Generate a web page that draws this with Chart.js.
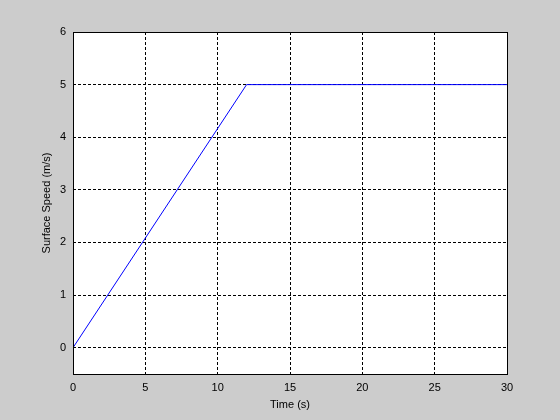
<!DOCTYPE html>
<html>
<head>
<meta charset="utf-8">
<script src="https://cdn.jsdelivr.net/npm/chart.js@4.4.0/dist/chart.umd.min.js"></script>
<style>
  html, body { margin: 0; padding: 0; background: #cccccc; }
  #wrap { width: 560px; height: 420px; }
</style>
</head>
<body>
<div id="wrap"><canvas id="speed"></canvas></div>
<script>
// time (s) and surface speed (m/s)
const timeVals = [0, 12, 30];
const speedVals = [0, 5, 5];
const xTicks = [0, 5, 10, 15, 20, 25, 30];
const yTicks = [0, 1, 2, 3, 4, 5, 6];

const boxPlugin = {
    id: 'box',
    beforeDraw(chart) {
        const a = chart.chartArea;
        const ctx = chart.ctx;
        ctx.save();
        ctx.fillStyle = '#ffffff';
        ctx.fillRect(a.left, a.top, a.right - a.left, a.bottom - a.top);
        ctx.restore();
    },
    afterDraw(chart) {
        const a = chart.chartArea;
        const ctx = chart.ctx;
        ctx.save();
        ctx.strokeStyle = '#000000';
        ctx.lineWidth = 1;
        ctx.strokeRect(Math.round(a.left) + 0.5, Math.round(a.top) + 0.5,
            Math.round(a.right - a.left), Math.round(a.bottom - a.top));
        ctx.restore();
    }
};

const ctx = document.getElementById('speed').getContext('2d');
const chart = new Chart(ctx, {
    type: 'line',
    data: {
        datasets: [{
            data: timeVals.map((t, i) => ({x: t, y: speedVals[i]})),
            borderColor: '#0000ff',
            borderWidth: 1,
            pointRadius: 0,
            tension: 0,
            fill: false
        }]
    },
    options: {
        responsive: true,
        maintainAspectRatio: false,
        animation: false,
        layout: { padding: { left: 40, right: 53, top: 32, bottom: 0 } },
        plugins: { legend: { display: false }, tooltip: { enabled: false } },
        scales: {
            x: {
                type: 'linear',
                min: 0,
                max: 30,
                afterBuildTicks: s => { s.ticks = xTicks.map(v => ({value: v})); },
                afterFit: s => { s.height = 46; },
                grid: { color: '#000000', lineWidth: 1, drawTicks: false },
                border: { display: false, dash: [3, 2] },
                ticks: { color: '#000000', padding: 7, maxRotation: 0,
                    font: { family: 'Liberation Sans', size: 11 } },
                title: { display: true, text: 'Time (s)', color: '#000000',
                    padding: { top: 0, bottom: 8 },
                    font: { family: 'Liberation Sans', size: 11 } }
            },
            y: {
                type: 'linear',
                min: -0.5,
                max: 6,
                afterBuildTicks: s => { s.ticks = yTicks.map(v => ({value: v})); },
                afterFit: s => { s.width = 33; },
                grid: { color: '#000000', lineWidth: 1, drawTicks: false },
                border: { display: false, dash: [3, 2] },
                ticks: { color: '#000000', padding: 7,
                    font: { family: 'Liberation Sans', size: 11 } },
                title: { display: true, text: 'Surface Speed (m/s)', color: '#000000',
                    padding: { top: 0, bottom: 0 },
                    font: { family: 'Liberation Sans', size: 11 } }
            }
        }
    },
    plugins: [boxPlugin]
});
</script>
</body>
</html>
